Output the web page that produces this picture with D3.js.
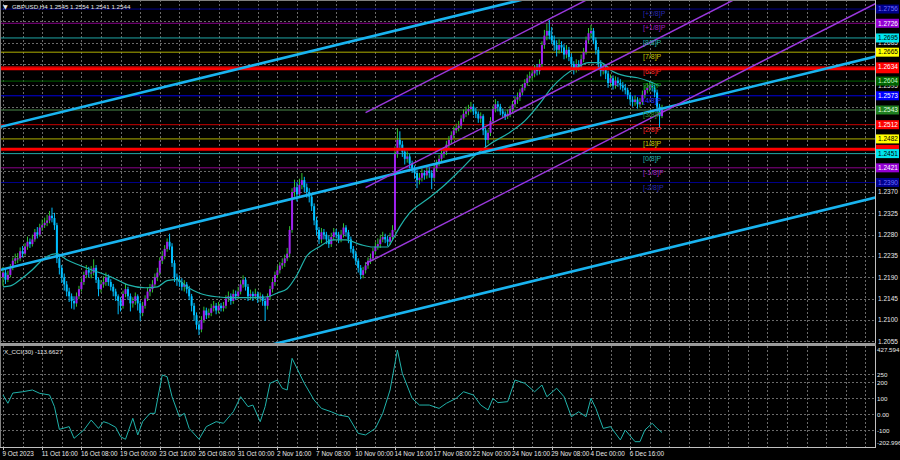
<!DOCTYPE html>
<html><head><meta charset="utf-8">
<script src="https://cdn.jsdelivr.net/npm/d3@7"></script>
<style>body{margin:0;background:#000;}svg{display:block;}text{font-family:"Liberation Sans",Arial,sans-serif;}</style>
</head><body><svg id="c" width="900" height="460"></svg>
<script>
// ---------------- DATA ----------------
const titleText = "GBPUSD,H4  1.2545 1.2554 1.2541 1.2544";
const cciTitle = "X_CCI(30) -113.6627";
const firstOpen = 1.2190;
const closes = [
1.2200,1.2185,1.2195,1.2210,1.2225,1.2230, 1.2230,1.2245,1.2240,1.2255,1.2265,1.2260,
1.2270,1.2285,1.2280,1.2295,1.2300,1.2305, 1.2310,1.2320,1.2315,1.2300,1.2230,1.2210,
1.2190,1.2175,1.2160,1.2150,1.2140,1.2135,
1.2150,1.2165,1.2180,1.2195,1.2205,1.2200, 1.2200,1.2210,1.2185,1.2165,1.2175,1.2180,
1.2190,1.2180,1.2170,1.2160,1.2150,1.2140, 1.2130,1.2155,1.2165,1.2150,1.2135,1.2140,
1.2150,1.2135,1.2115,1.2130,1.2145,1.2160,
1.2165,1.2175,1.2190,1.2200,1.2225,1.2235, 1.2250,1.2265,1.2255,1.2220,1.2190,1.2185,
1.2180,1.2170,1.2175,1.2165,1.2150,1.2130, 1.2110,1.2090,1.2080,1.2100,1.2120,1.2110,
1.2115,1.2125,1.2130,1.2120,1.2130,1.2125,
1.2130,1.2145,1.2150,1.2140,1.2155,1.2150, 1.2160,1.2175,1.2185,1.2170,1.2150,1.2155,
1.2150,1.2155,1.2145,1.2150,1.2140,1.2130, 1.2150,1.2165,1.2180,1.2195,1.2205,1.2215,
1.2220,1.2230,1.2240,1.2290,1.2370,1.2380,
1.2365,1.2385,1.2395,1.2380,1.2370,1.2360, 1.2340,1.2310,1.2290,1.2270,1.2285,1.2280,
1.2270,1.2260,1.2275,1.2285,1.2280,1.2270, 1.2280,1.2295,1.2285,1.2270,1.2250,1.2240,
1.2225,1.2210,1.2195,1.2205,1.2215,1.2225,
1.2230,1.2245,1.2255,1.2260,1.2270,1.2275, 1.2270,1.2265,1.2275,1.2290,1.2450,1.2480,
1.2470,1.2455,1.2440,1.2445,1.2430,1.2420, 1.2410,1.2395,1.2400,1.2410,1.2405,1.2415,
1.2410,1.2400,1.2420,1.2430,1.2440,1.2450,
1.2455,1.2470,1.2480,1.2490,1.2500,1.2505, 1.2510,1.2525,1.2535,1.2540,1.2545,1.2550,
1.2540,1.2535,1.2525,1.2530,1.2500,1.2480, 1.2495,1.2520,1.2545,1.2555,1.2550,1.2540,
1.2535,1.2530,1.2535,1.2545,1.2555,1.2565,
1.2570,1.2580,1.2590,1.2600,1.2610,1.2615, 1.2620,1.2630,1.2625,1.2640,1.2680,1.2700,
1.2710,1.2700,1.2690,1.2680,1.2670,1.2680, 1.2675,1.2660,1.2670,1.2655,1.2640,1.2630,
1.2640,1.2635,1.2650,1.2665,1.2690,1.2705,
1.2710,1.2690,1.2670,1.2640,1.2625,1.2630, 1.2620,1.2600,1.2610,1.2595,1.2605,1.2600,
1.2595,1.2590,1.2585,1.2575,1.2565,1.2560, 1.2565,1.2555,1.2560,1.2575,1.2585,1.2590,
1.2595,1.2590,1.2580,1.2550,1.2530,1.2544];
const highs = [
1.2212,1.2208,1.2204,1.2218,1.2232,1.2240,1.2241,1.2253,1.2256,1.2262,
1.2276,1.2272,1.2280,1.2292,1.2296,1.2303,1.2312,1.2316,1.2322,1.2330,
1.2337,1.2326,1.2305,1.2238,1.2216,1.2198,1.2182,1.2168,1.2156,1.2150,
1.2158,1.2172,1.2188,1.2202,1.2216,1.2212,1.2214,1.2228,1.2216,1.2190,
1.2184,1.2192,1.2200,1.2196,1.2186,1.2176,1.2166,1.2154,1.2148,1.2162,
1.2176,1.2170,1.2156,1.2148,1.2158,1.2154,1.2140,1.2138,1.2152,1.2168,
1.2176,1.2184,1.2198,1.2210,1.2232,1.2246,1.2258,1.2272,1.2282,1.2262,
1.2226,1.2198,1.2194,1.2188,1.2184,1.2180,1.2172,1.2155,1.2136,1.2116,
1.2098,1.2108,1.2128,1.2126,1.2124,1.2134,1.2140,1.2136,1.2138,1.2136,
1.2138,1.2152,1.2160,1.2156,1.2164,1.2162,1.2170,1.2184,1.2194,1.2190,
1.2176,1.2164,1.2160,1.2166,1.2160,1.2158,1.2154,1.2146,1.2156,1.2172,
1.2188,1.2202,1.2214,1.2222,1.2230,1.2238,1.2252,1.2298,1.2378,1.2396,
1.2390,1.2398,1.2410,1.2402,1.2388,1.2378,1.2366,1.2346,1.2318,1.2296,
1.2294,1.2292,1.2286,1.2278,1.2284,1.2294,1.2292,1.2286,1.2290,1.2304,
1.2300,1.2290,1.2276,1.2256,1.2246,1.2230,1.2216,1.2212,1.2222,1.2232,
1.2240,1.2252,1.2264,1.2272,1.2280,1.2286,1.2282,1.2278,1.2284,1.2300,
1.2466,1.2504,1.2498,1.2478,1.2462,1.2456,1.2450,1.2436,1.2426,1.2416,
1.2410,1.2420,1.2416,1.2424,1.2422,1.2416,1.2428,1.2438,1.2448,1.2458,
1.2464,1.2478,1.2488,1.2498,1.2508,1.2514,1.2520,1.2532,1.2544,1.2550,
1.2554,1.2560,1.2556,1.2548,1.2540,1.2538,1.2534,1.2506,1.2502,1.2528,
1.2552,1.2566,1.2562,1.2556,1.2546,1.2540,1.2544,1.2552,1.2562,1.2572,
1.2580,1.2588,1.2598,1.2608,1.2618,1.2624,1.2630,1.2638,1.2640,1.2650,
1.2688,1.2712,1.2726,1.2733,1.2718,1.2700,1.2690,1.2692,1.2688,1.2682,
1.2680,1.2676,1.2662,1.2646,1.2650,1.2648,1.2660,1.2674,1.2698,1.2716,
1.2722,1.2716,1.2696,1.2676,1.2648,1.2642,1.2636,1.2626,1.2618,1.2616,
1.2614,1.2612,1.2608,1.2602,1.2598,1.2590,1.2580,1.2572,1.2574,1.2570,
1.2568,1.2584,1.2594,1.2600,1.2604,1.2602,1.2596,1.2586,1.2556,1.2554];
const lows = [
1.2172,1.2176,1.2180,1.2190,1.2205,1.2218,1.2220,1.2224,1.2232,1.2236,
1.2248,1.2252,1.2255,1.2265,1.2272,1.2276,1.2288,1.2294,1.2298,1.2304,
1.2306,1.2290,1.2220,1.2196,1.2178,1.2162,1.2150,1.2138,1.2124,1.2122,
1.2128,1.2144,1.2160,1.2174,1.2188,1.2190,1.2188,1.2194,1.2178,1.2150,
1.2158,1.2168,1.2172,1.2172,1.2162,1.2150,1.2140,1.2112,1.2118,1.2124,
1.2148,1.2142,1.2118,1.2126,1.2132,1.2120,1.2098,1.2108,1.2124,1.2140,
1.2150,1.2158,1.2170,1.2182,1.2194,1.2218,1.2228,1.2244,1.2248,1.2212,
1.2180,1.2172,1.2170,1.2162,1.2160,1.2156,1.2142,1.2118,1.2098,1.2080,
1.2068,1.2074,1.2094,1.2102,1.2104,1.2108,1.2118,1.2112,1.2114,1.2118,
1.2118,1.2124,1.2138,1.2132,1.2134,1.2142,1.2144,1.2154,1.2168,1.2162,
1.2140,1.2142,1.2140,1.2144,1.2136,1.2138,1.2130,1.2098,1.2122,1.2142,
1.2158,1.2172,1.2188,1.2198,1.2208,1.2212,1.2224,1.2232,1.2284,1.2360,
1.2350,1.2358,1.2376,1.2370,1.2358,1.2348,1.2330,1.2300,1.2278,1.2260,
1.2262,1.2270,1.2260,1.2252,1.2254,1.2268,1.2272,1.2262,1.2264,1.2274,
1.2276,1.2262,1.2242,1.2230,1.2216,1.2200,1.2186,1.2188,1.2198,1.2208,
1.2218,1.2224,1.2238,1.2248,1.2252,1.2264,1.2262,1.2256,1.2258,1.2268,
1.2286,1.2442,1.2458,1.2444,1.2428,1.2432,1.2420,1.2410,1.2398,1.2378,
1.2386,1.2392,1.2396,1.2398,1.2400,1.2376,1.2394,1.2414,1.2424,1.2434,
1.2442,1.2448,1.2462,1.2472,1.2484,1.2494,1.2498,1.2504,1.2518,1.2528,
1.2532,1.2538,1.2532,1.2526,1.2516,1.2516,1.2490,1.2460,1.2472,1.2488,
1.2514,1.2538,1.2540,1.2532,1.2526,1.2522,1.2524,1.2528,1.2538,1.2548,
1.2556,1.2562,1.2574,1.2584,1.2594,1.2602,1.2606,1.2612,1.2616,1.2618,
1.2634,1.2672,1.2690,1.2692,1.2682,1.2668,1.2656,1.2662,1.2664,1.2650,
1.2652,1.2646,1.2632,1.2618,1.2622,1.2626,1.2628,1.2644,1.2660,1.2684,
1.2696,1.2682,1.2660,1.2630,1.2614,1.2618,1.2608,1.2590,1.2592,1.2586,
1.2588,1.2592,1.2586,1.2582,1.2576,1.2566,1.2554,1.2550,1.2552,1.2546,
1.2548,1.2554,1.2568,1.2578,1.2582,1.2582,1.2570,1.2538,1.2505,1.2526];
const maBars = [0,3,7,12,17,22,26,31,36,44,51,58,63,67,71,75,80,87,94,102,108,112,116,120,124,129,135,140,146,151,157,159,162,166,173,179,186,193,199,206,213,219,224,229,234,239,244,249,254,259,264,268];
const maValues = [1.2170,1.2172,1.2185,1.2206,1.2231,1.2240,1.2227,1.2216,1.2206,1.2191,1.2174,1.2168,1.2170,1.2183,1.2185,1.2170,1.2157,1.2149,1.2147,1.2147,1.2149,1.2157,1.2166,1.2195,1.2235,1.2254,1.2269,1.2269,1.2259,1.2254,1.2254,1.2269,1.2297,1.2326,1.2354,1.2379,1.2413,1.2449,1.2472,1.2493,1.2520,1.2556,1.2590,1.2615,1.2632,1.2643,1.2643,1.2624,1.2615,1.2611,1.2603,1.2594];
const cciBars = [0,2,4,8,12,15,19,21,23,27,29,33,36,39,41,43,46,48,50,53,55,57,60,62,65,67,69,72,74,76,80,83,87,90,94,97,100,102,105,107,109,112,114,116,118,121,123,127,130,134,137,141,145,148,152,155,158,161,163,167,170,174,178,181,185,188,192,195,198,200,202,206,209,213,217,220,222,226,229,232,235,238,240,242,245,248,252,254,258,260,262,265,267,269];
const cciValues = [121,69,133,141,152,131,121,48,-94,-77,-150,-98,-36,-88,-46,-56,-81,-140,-156,-25,-129,-46,6,6,246,235,110,-15,6,-88,-156,-77,-46,-56,16,110,48,58,-46,48,194,214,163,152,350,256,194,89,37,16,-4,-15,-119,-129,-88,6,152,402,256,100,58,58,37,69,100,141,121,58,27,100,73,79,214,194,141,183,110,163,110,-15,16,-15,100,37,-88,-77,-160,-98,-171,-171,-98,-56,-88,-113.6627];
const cciExtent = [-202.996, 427.594];
const cciLevels = [250, 200, 100, 0, -100];
const timeLabelBars = [0,16,32,48,64,80,96,112,128,144,160,176,192,208,224,240,256];
const timeLabels = ["9 Oct 2023","11 Oct 16:00","16 Oct 08:00","19 Oct 00:00","23 Oct 16:00","26 Oct 08:00","31 Oct 00:00","2 Nov 16:00","7 Nov 08:00","10 Nov 00:00","14 Nov 16:00","17 Nov 08:00","22 Nov 00:00","24 Nov 16:00","29 Nov 08:00","4 Dec 00:00","6 Dec 16:00"];
const priceTicks = [1.2055,1.2100,1.2145,1.2190,1.2235,1.2280,1.2325,1.2370,1.2415,1.2460,1.2505,1.2550,1.2595,1.2640,1.2685,1.2730];
const murreyNames = ["[+2/8]P","[+1/8]P","[8/8]P","[7/8]P","[6/8]P","[5/8]P","[4/8]P","[3/8]P","[2/8]P","[1/8]P","[0/8]P","[-1/8]P","[-2/8]P"];
const murreyLevels = [1.2756,1.2726,1.2695,1.2665,1.2634,1.2604,1.2573,1.2543,1.2512,1.2482,1.2451,1.2421,1.2390];
const supportLevels = [1.2630, 1.2460];
// trend lines: [bar1, price1, bar2, price2]
const cyanLines = [[0,1.25087,200,1.27607],[0,1.2207,300,1.2585],[218,1.21844,350,1.23506]];
const purpleLines = [[148,1.25374,348,1.30647],[148,1.23791,348,1.29064],[148,1.22188,348,1.27461]];

// ---------------- STYLE ----------------
const mLine = ["#00008b","#8b008b","#1fa5a5","#b0b000","#e00000","#006400","#0000e0","#4a8a4a","#c80000","#b0b000","#1fa5a5","#8b008b","#00008b"];
const mText = ["#2828b0","#a020c0","#20b2aa","#c8c800","#ff2020","#109010","#2a2aff","#2e9e2e","#ff2020","#c8c800","#20b2aa","#a020c0","#2828b0"];
const mBox  = ["#00008b","#9400d3","#00e5ee","#ffff00","#ff0000","#006400","#0000ff","#1f7f1f","#ff0000","#ffff00","#00e5ee","#9400d3","#00008b"];
const mBoxT = ["#7070ff","#ffffff","#000000","#000000","#ffffff","#c0ffc0","#ffffff","#e0ffe0","#ffffff","#000000","#000000","#ffffff","#7070ff"];

const W=900,H=460, plotRight=875, mainBottom=343, cciTop=346, cciBottom=447;
const svg = d3.select("#c");
const x = d3.scaleLinear().domain([0,269]).range([3,662]);
const y = d3.scaleLinear().domain([1.2055,1.2685]).range([341.3,42.7]);
const yc = d3.scaleLinear().domain(cciExtent).range([446.8,345.9]);
const gridCol = "#6a6a6a";

svg.append("rect").attr("width",W).attr("height",H).attr("fill","#000");
const defs = svg.append("defs");
defs.append("clipPath").attr("id","cm").append("rect").attr("x",0).attr("y",0).attr("width",plotRight).attr("height",mainBottom);
defs.append("clipPath").attr("id","cc").append("rect").attr("x",0).attr("y",cciTop).attr("width",plotRight).attr("height",cciBottom-cciTop);

const gMain = svg.append("g").attr("clip-path","url(#cm)");
const gCci = svg.append("g").attr("clip-path","url(#cc)");

// vertical grid
const gridBars = d3.range(0,400,8).filter(b=>x(b)<plotRight-2);
[[gMain,0,mainBottom],[gCci,cciTop,cciBottom]].forEach(([g,a,b])=>{
  g.selectAll(null).data(gridBars).join("line")
    .attr("x1",d=>Math.round(x(d))+0.5).attr("x2",d=>Math.round(x(d))+0.5)
    .attr("y1",a).attr("y2",b).attr("stroke",gridCol).attr("stroke-width",1).attr("stroke-dasharray","2,2");
});
gMain.selectAll(null).data(priceTicks).join("line")
  .attr("x1",0).attr("x2",plotRight).attr("y1",d=>Math.round(y(d))+0.5).attr("y2",d=>Math.round(y(d))+0.5)
  .attr("stroke",gridCol).attr("stroke-dasharray","2,2");
gCci.selectAll(null).data(cciLevels).join("line")
  .attr("x1",0).attr("x2",plotRight).attr("y1",d=>Math.round(yc(d))+0.5).attr("y2",d=>Math.round(yc(d))+0.5)
  .attr("stroke",gridCol).attr("stroke-dasharray","2,2");

// Murrey horizontal lines
gMain.selectAll(null).data(murreyLevels).join("line")
  .attr("x1",0).attr("x2",plotRight).attr("y1",d=>y(d)).attr("y2",d=>y(d))
  .attr("stroke",(d,i)=>mLine[i]).attr("stroke-width",1);

// candles
const bars = closes.map((c,i)=>({i, o: i===0?firstOpen:closes[i-1], c, h: highs[i], l: lows[i]}));
const gC = gMain.append("g");
bars.forEach(d=>{
  const up = d.c>=d.o;
  const cx = x(d.i);
  gC.append("line").attr("x1",cx).attr("x2",cx).attr("y1",y(d.h)).attr("y2",y(d.l))
    .attr("stroke", up?"#30c030":"#00bfff").attr("stroke-width",1);
  const top = y(Math.max(d.o,d.c)), bot = y(Math.min(d.o,d.c));
  gC.append("rect").attr("x",cx-1).attr("width",2).attr("y",top).attr("height",Math.max(1,bot-top))
    .attr("fill", up?"#a020f0":"#00bfff");
});

// MA line
gMain.append("path").datum(maBars.map((b,i)=>[b,maValues[i]]))
  .attr("d", d3.line().x(d=>x(d[0])).y(d=>y(d[1])).curve(d3.curveMonotoneX))
  .attr("fill","none").attr("stroke","#20b2aa").attr("stroke-width",1.2);

// thick red support/resistance lines
gMain.selectAll(null).data(supportLevels).join("line")
  .attr("x1",0).attr("x2",plotRight).attr("y1",d=>y(d)).attr("y2",d=>y(d))
  .attr("stroke","#ff0000").attr("stroke-width",3);

// trend lines
function segPts(l, b0, b1){
  const [ba,pa,bb,pb]=l; const f=b=>pa+(pb-pa)*(b-ba)/(bb-ba);
  return [[x(b0),y(f(b0))],[x(b1),y(f(b1))]];
}
cyanLines.forEach(l=>{
  const p=segPts(l,-10,420);
  gMain.append("line").attr("x1",p[0][0]).attr("y1",p[0][1]).attr("x2",p[1][0]).attr("y2",p[1][1])
    .attr("stroke","#19b4f0").attr("stroke-width",2.6);
});
purpleLines.forEach(l=>{
  const p=segPts(l,l[0],420);
  gMain.append("line").attr("x1",p[0][0]).attr("y1",p[0][1]).attr("x2",p[1][0]).attr("y2",p[1][1])
    .attr("stroke","#9a38dc").attr("stroke-width",1.5);
});

// Murrey in-chart labels
gMain.selectAll(null).data(murreyLevels).join("text")
  .attr("x",643).attr("y",d=>y(d)+7).attr("font-size",7).attr("fill",(d,i)=>mText[i])
  .text((d,i)=>murreyNames[i]);

// CCI line
gCci.append("path").datum(cciBars.map((b,i)=>[b,cciValues[i]]))
  .attr("d", d3.line().x(d=>x(d[0])).y(d=>yc(d[1])))
  .attr("fill","none").attr("stroke","#20b2aa").attr("stroke-width",1);

// borders
const bc="#c0c0c0";
svg.append("line").attr("x1",0).attr("x2",plotRight).attr("y1",0.5).attr("y2",0.5).attr("stroke","#808080");
svg.append("line").attr("x1",0.5).attr("x2",0.5).attr("y1",0).attr("y2",cciBottom).attr("stroke","#808080");
svg.append("line").attr("x1",plotRight+0.5).attr("x2",plotRight+0.5).attr("y1",0).attr("y2",cciBottom+1).attr("stroke",bc);
svg.append("rect").attr("x",0).attr("y",mainBottom).attr("width",plotRight+1).attr("height",cciTop-mainBottom).attr("fill","#9a9a9a");
svg.append("line").attr("x1",0).attr("x2",plotRight+1).attr("y1",cciBottom+0.5).attr("y2",cciBottom+0.5).attr("stroke",bc);

// time axis
svg.selectAll(null).data(timeLabelBars).join("line")
  .attr("x1",d=>Math.round(x(d))+0.5).attr("x2",d=>Math.round(x(d))+0.5).attr("y1",cciBottom).attr("y2",cciBottom+3)
  .attr("stroke",bc);
svg.selectAll(null).data(timeLabelBars).join("text")
  .attr("x",d=>x(d)-0.5).attr("y",456).attr("font-size",6.4).attr("fill","#e8e8e8")
  .text((d,i)=>timeLabels[i]);

// price axis labels (those fully covered by a level box are not drawn)
const boxLevels = murreyLevels.concat(supportLevels);
const visibleTicks = priceTicks.filter(t=>!boxLevels.some(v=>Math.abs(y(v)-y(t))<3.5));
svg.selectAll(null).data(visibleTicks).join("text")
  .attr("x",878).attr("y",d=>y(d)+2.3).attr("font-size",6.5).attr("fill","#e8e8e8")
  .text(d=>d.toFixed(4));
// support label boxes (mostly hidden behind murrey labels)
supportLevels.forEach(v=>{
  svg.append("rect").attr("x",876).attr("y",y(v)-4.5).attr("width",23).attr("height",9).attr("fill","#ff0000");
});
murreyLevels.forEach((v,i)=>{
  svg.append("rect").attr("x",876).attr("y",y(v)-4.5).attr("width",23).attr("height",9).attr("fill",mBox[i]);
  svg.append("text").attr("x",878).attr("y",y(v)+2.3).attr("font-size",6.5).attr("fill",mBoxT[i]).text(v.toFixed(4));
});

// CCI axis labels
const cciLabelData = [[cciExtent[1],"427.594",352],[250,"250",null],[200,"200",null],[100,"100",null],[0,"0.00",null],[-100,"-100",null],[cciExtent[0],"-202.996",445]];
cciLabelData.forEach(([v,t,yy])=>{
  svg.append("text").attr("x",877).attr("y",yy!==null?yy:yc(v)+2.3).attr("font-size",6.2).attr("fill","#e8e8e8").text(t);
});

// titles
svg.append("text").attr("x",3).attr("y",8.5).attr("font-size",6).attr("fill","#e8e8e8")
  .style("font-family","DejaVu Sans").text("\u25BC");
svg.append("text").attr("x",12).attr("y",8.5).attr("font-size",6.2).attr("fill","#e8e8e8").text(titleText);
svg.append("text").attr("x",4).attr("y",353.5).attr("font-size",6.2).attr("fill","#e8e8e8").text(cciTitle);
</script></body></html>
